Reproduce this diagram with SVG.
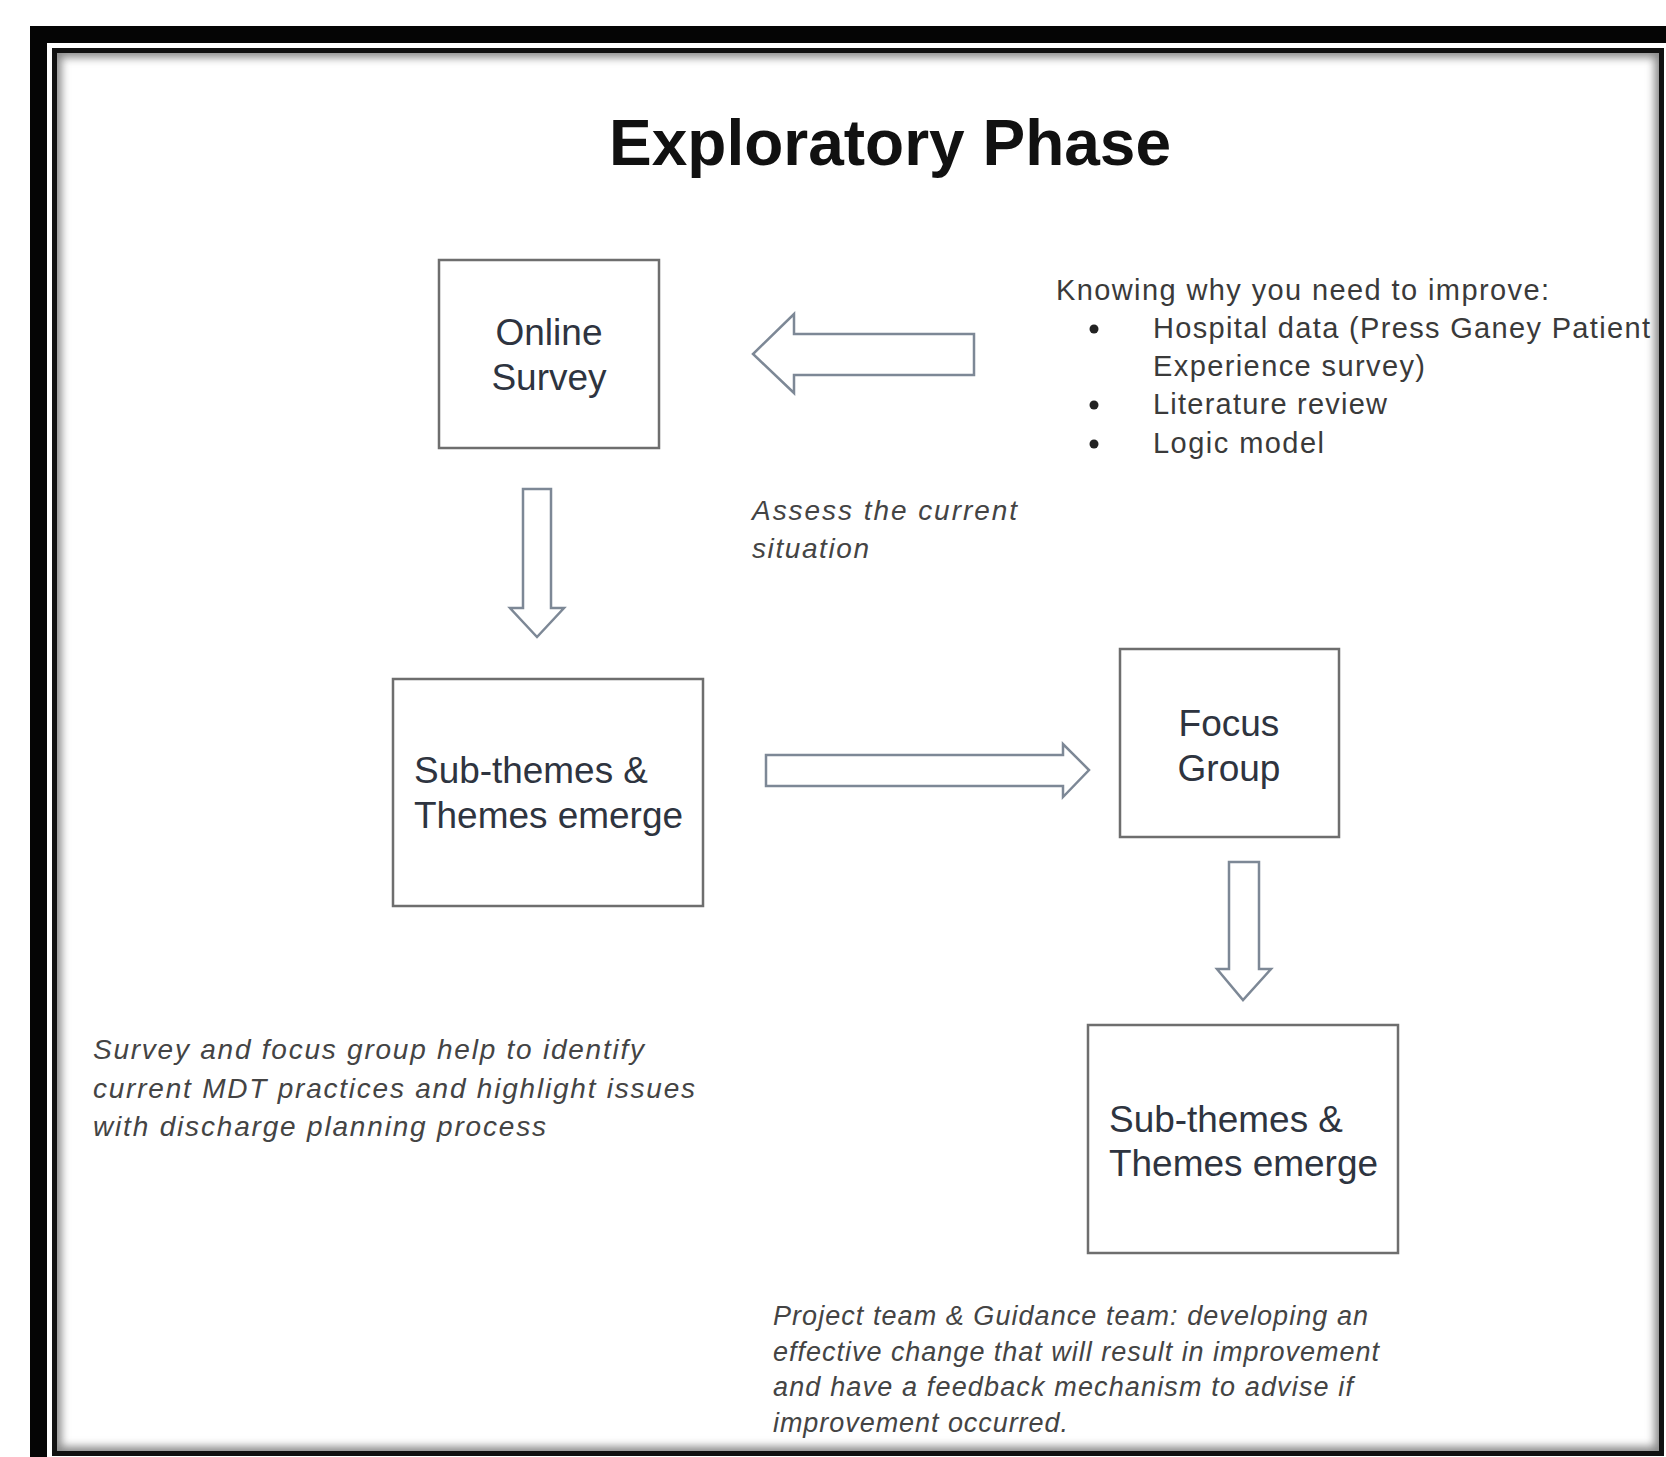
<svg xmlns="http://www.w3.org/2000/svg" width="1666" height="1457" viewBox="0 0 1666 1457">
  <defs>
    <style>
      .box { fill: #ffffff; stroke: #6e6e6e; stroke-width: 2.5; }
      .boxtext { font-family: "Liberation Sans", Arial, sans-serif; font-size: 37px; fill: #2e3440; text-anchor: middle; }
      .boxtext-l { font-family: "Liberation Sans", Arial, sans-serif; font-size: 37px; fill: #2e3440; }
      .arrow { fill: #ffffff; stroke: #7d8896; stroke-width: 2.5; stroke-linejoin: miter; }
      .note { font-family: "Liberation Sans", Arial, sans-serif; font-size: 28px; fill: #444444; font-style: italic; }
      .note-s { font-family: "Liberation Sans", Arial, sans-serif; font-size: 27px; fill: #444444; font-style: italic; }
      .list { font-family: "Liberation Sans", Arial, sans-serif; font-size: 29px; fill: #3a3a3a; }
      .title { font-family: "Liberation Sans", Arial, sans-serif; font-size: 64px; font-weight: bold; fill: #111111; text-anchor: middle; }
    </style>
    <clipPath id="inner">
      <rect x="57" y="53" width="1602" height="1398"/>
    </clipPath>
    <filter id="blur" x="-5%" y="-5%" width="110%" height="110%">
      <feGaussianBlur stdDeviation="4"/>
    </filter>
  </defs>

  <rect x="0" y="0" width="1666" height="1457" fill="#ffffff"/>

  <g id="frame">
    <rect x="38.5" y="34.5" width="1700" height="1500" fill="none" stroke="#050505" stroke-width="17"/>
    <g clip-path="url(#inner)">
      <rect x="54.5" y="50.5" width="1607" height="1403" fill="none" stroke="#8a8a8a" stroke-width="14" filter="url(#blur)"/>
    </g>
    <rect x="54.5" y="50.5" width="1607" height="1403" fill="none" stroke="#111111" stroke-width="5"/>
  </g>

  <g id="title">
    <text class="title" x="890" y="165">Exploratory Phase</text>
  </g>

  <g id="connectors">
    <path class="arrow" d="M 974 334 L 794 334 L 794 314 L 753 354 L 794 393 L 794 375 L 974 375 Z"/>
    <path class="arrow" d="M 523 489 L 551 489 L 551 608 L 564 608 L 537 637 L 510 608 L 523 608 Z"/>
    <path class="arrow" d="M 766 755 L 1063 755 L 1063 744 L 1089 770 L 1063 797 L 1063 786 L 766 786 Z"/>
    <path class="arrow" d="M 1229 862 L 1259 862 L 1259 969 L 1271 969 L 1243 1000 L 1217 969 L 1229 969 Z"/>
  </g>

  <g id="online-survey">
    <rect class="box" x="439" y="260" width="220" height="188"/>
    <text class="boxtext" x="549" y="345">Online</text>
    <text class="boxtext" x="549" y="390">Survey</text>
  </g>

  <g id="subthemes-1">
    <rect class="box" x="393" y="679" width="310" height="227"/>
    <text class="boxtext-l" x="414" y="783" textLength="234" lengthAdjust="spacingAndGlyphs">Sub-themes &amp;</text>
    <text class="boxtext-l" x="414" y="828" textLength="269" lengthAdjust="spacingAndGlyphs">Themes emerge</text>
  </g>

  <g id="focus-group">
    <rect class="box" x="1120" y="649" width="219" height="188"/>
    <text class="boxtext" x="1229" y="736">Focus</text>
    <text class="boxtext" x="1229" y="781">Group</text>
  </g>

  <g id="subthemes-2">
    <rect class="box" x="1088" y="1025" width="310" height="228"/>
    <text class="boxtext-l" x="1109" y="1132" textLength="234" lengthAdjust="spacingAndGlyphs">Sub-themes &amp;</text>
    <text class="boxtext-l" x="1109" y="1176" textLength="269" lengthAdjust="spacingAndGlyphs">Themes emerge</text>
  </g>

  <g id="knowing">
    <text class="list" x="1056" y="300" textLength="493" lengthAdjust="spacing">Knowing why you need to improve:</text>
    <circle cx="1094" cy="329" r="4.5" fill="#222"/>
    <text class="list" x="1153" y="338" textLength="497" lengthAdjust="spacing">Hospital data (Press Ganey Patient</text>
    <text class="list" x="1153" y="376" textLength="272" lengthAdjust="spacing">Experience survey)</text>
    <circle cx="1094" cy="405" r="4.5" fill="#222"/>
    <text class="list" x="1153" y="414" textLength="234" lengthAdjust="spacing">Literature review</text>
    <circle cx="1094" cy="444" r="4.5" fill="#222"/>
    <text class="list" x="1153" y="453" textLength="171" lengthAdjust="spacing">Logic model</text>
  </g>

  <g id="assess">
    <text class="note" x="752" y="520" textLength="265" lengthAdjust="spacing">Assess the current</text>
    <text class="note" x="752" y="558" textLength="117" lengthAdjust="spacing">situation</text>
  </g>

  <g id="survey-note">
    <text class="note" x="93" y="1059" textLength="551" lengthAdjust="spacing">Survey and focus group help to identify</text>
    <text class="note" x="93" y="1098" textLength="602" lengthAdjust="spacing">current MDT practices and highlight issues</text>
    <text class="note" x="93" y="1136" textLength="453" lengthAdjust="spacing">with discharge planning process</text>
  </g>

  <g id="project-note">
    <text class="note-s" x="773" y="1325" textLength="595" lengthAdjust="spacing">Project team &amp; Guidance team: developing an</text>
    <text class="note-s" x="773" y="1361" textLength="606" lengthAdjust="spacing">effective change that will result in improvement</text>
    <text class="note-s" x="773" y="1396" textLength="580" lengthAdjust="spacing">and have a feedback mechanism to advise if</text>
    <text class="note-s" x="773" y="1432" textLength="295" lengthAdjust="spacing">improvement occurred.</text>
  </g>
</svg>
